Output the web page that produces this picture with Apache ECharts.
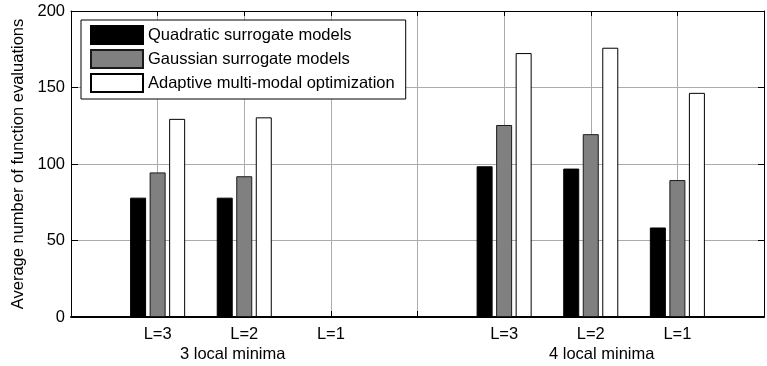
<!DOCTYPE html>
<html>
<head>
<meta charset="utf-8">
<script src="https://cdn.jsdelivr.net/npm/echarts@6/dist/echarts.min.js"></script>
<style>
html,body{margin:0;padding:0;background:#fff;}
#chart{width:767px;height:366px;}
</style>
</head>
<body>
<div id="chart"></div>
<script>
// x positions: blank edge, group 1 (3 local minima), gap, group 2 (4 local minima), blank edge
var categories = ['', 'L=3', 'L=2', 'L=1', '', 'L=3', 'L=2', 'L=1', ''];
var groupLabels = ['3 local minima', '4 local minima'];
var seriesNames = ['Quadratic surrogate models', 'Gaussian surrogate models', 'Adaptive multi-modal optimization'];
var quadratic = ['-', 78, 78, '-', '-', 98.5, 97, 58.5, '-'];
var gaussian  = ['-', 94.5, 92, '-', '-', 125.5, 119.5, 89.5, '-'];
var adaptive  = ['-', 129.5, 130.5, '-', '-', 172.5, 176, 146.5, '-'];
var yTicks = [0, 50, 100, 150, 200];

var FONT = 'Liberation Sans, Arial, sans-serif';
var FS = 16.5;
var chart = echarts.init(document.getElementById('chart'), null, {renderer: 'canvas'});

var gridLeft = 71, gridTop = 11, gridW = 699, gridH = 306;

var option = {
  animation: false,
  backgroundColor: '#ffffff',
  textStyle: {fontFamily: FONT},
  grid: {left: gridLeft, top: gridTop, width: gridW, height: gridH, containLabel: false},
  legend: {
    orient: 'vertical',
    left: 81, top: 20,
    padding: [5, 11, 6, 9],
    itemWidth: 52, itemHeight: 18, itemGap: 4,
    borderColor: '#000', borderWidth: 1,
    backgroundColor: '#fff',
    icon: 'rect',
    textStyle: {fontFamily: FONT, fontSize: FS, lineHeight: 18, color: '#000'},
    data: seriesNames
  },
  xAxis: [{
    type: 'category',
    data: categories,
    boundaryGap: false,
    position: 'bottom',
    axisLine: {show: true, onZero: false, lineStyle: {color: '#000', width: 2}},
    axisTick: {show: true, inside: true, length: 6, interval: 0, lineStyle: {color: '#000'}},
    axisLabel: {show: true, interval: 0, margin: 9, fontFamily: FONT, fontSize: FS, color: '#000'},
    splitLine: {show: true, interval: 0, lineStyle: {color: '#ababab', width: 1}}
  }, {
    type: 'category',
    data: categories,
    boundaryGap: false,
    position: 'top',
    axisLine: {show: true, onZero: false, lineStyle: {color: '#000', width: 1}},
    axisTick: {show: true, inside: true, length: 5, interval: 0, lineStyle: {color: '#000'}},
    axisLabel: {show: false},
    splitLine: {show: false}
  }],
  yAxis: [{
    type: 'value',
    min: yTicks[0], max: yTicks[yTicks.length - 1], interval: 50,
    position: 'left',
    name: 'Average number of function evaluations',
    nameLocation: 'middle',
    nameGap: 39,
    nameTextStyle: {fontFamily: FONT, fontSize: FS, color: '#000'},
    axisLine: {show: true, onZero: false, lineStyle: {color: '#000', width: 1}},
    axisTick: {show: true, inside: true, length: 7, lineStyle: {color: '#000'}},
    axisLabel: {margin: 6, fontFamily: FONT, fontSize: FS, color: '#000'},
    splitLine: {show: true, lineStyle: {color: '#ababab', width: 1}}
  }, {
    type: 'value',
    min: yTicks[0], max: yTicks[yTicks.length - 1], interval: 50,
    position: 'right',
    axisLine: {show: true, onZero: false, lineStyle: {color: '#000', width: 1}},
    axisTick: {show: true, inside: true, length: 6, lineStyle: {color: '#000'}},
    axisLabel: {show: false},
    splitLine: {show: false}
  }],
  series: [{
    name: seriesNames[0], type: 'bar', data: quadratic,
    barWidth: 16, barGap: '22%',
    itemStyle: {color: '#000000', borderColor: '#000', borderWidth: 1}
  }, {
    name: seriesNames[1], type: 'bar', data: gaussian,
    barWidth: 16, barGap: '22%',
    itemStyle: {color: '#808080', borderColor: '#1a1a1a', borderWidth: 1}
  }, {
    name: seriesNames[2], type: 'bar', data: adaptive,
    barWidth: 16, barGap: '22%',
    itemStyle: {color: '#ffffff', borderColor: '#000', borderWidth: 1}
  }],
  graphic: [{
    type: 'text', left: 180, top: 346,
    style: {text: groupLabels[0], font: FS + 'px ' + FONT, fill: '#000'}
  }, {
    type: 'text', left: 549, top: 346,
    style: {text: groupLabels[1], font: FS + 'px ' + FONT, fill: '#000'}
  }]
};
chart.setOption(option);
</script>
</body>
</html>
